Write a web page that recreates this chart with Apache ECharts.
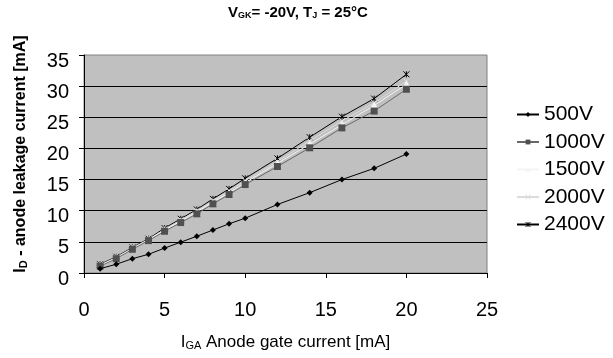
<!DOCTYPE html>
<html><head><meta charset="utf-8">
<script src="https://cdn.jsdelivr.net/npm/echarts@6/dist/echarts.min.js"></script>
<style>html,body{margin:0;padding:0;background:#fff}#c{width:613px;height:358px}</style>
</head><body><div id="c"></div>
<script>
const xValues = [1,2,3,4,5,6,7,8,9,10,12,14,16,18,20];
const s500  = [0.7,1.4,2.3,3.0,4.0,4.95,5.9,6.9,7.9,8.8,11.0,12.9,15.0,16.8,19.1];
const s1000 = [1.1,2.3,3.8,5.2,6.7,8.1,9.5,11.1,12.6,14.2,17.1,20.1,23.3,26.0,29.5];
const s1500 = [1.2,2.4,3.9,5.3,6.9,8.3,9.8,11.4,12.9,14.5,17.6,20.7,23.8,26.9,30.3];
const s2000 = [1.3,2.5,4.0,5.4,7.0,8.5,10.0,11.6,13.2,14.8,17.9,21.2,24.4,27.3,30.8];
const s2400 = [1.4,2.6,4.1,5.5,7.2,8.7,10.2,11.9,13.5,15.2,18.4,21.8,25.1,28.0,31.9];
const seriesNames = ['500V','1000V','1500V','2000V','2400V'];
const xTicks = [0,5,10,15,20,25];
const yTicks = [0,5,10,15,20,25,30,35];

const FONT = 'Liberation Sans, Arial, sans-serif';
function pairs(ys){ return xValues.map((x,i)=>[x, ys[i]]); }
const xMark = 'path://M0,0L10,10M10,0L0,10';
const starMark = 'path://M0,0L10,10M10,0L0,10M5,0L5,10';
const styles = [
  {data:s500, color:'#000000', line:'#000000', symbol:'diamond', size:6, stroke:false},
  {data:s1000, color:'#505050', line:'#686868', symbol:'rect', size:7, stroke:false},
  {data:s1500, color:'#f4f4f4', line:'#f4f4f4', symbol:'triangle', size:8, stroke:false},
  {data:s2000, color:'#dcdcdc', line:'#dcdcdc', symbol:xMark, size:6, stroke:true},
  {data:s2400, color:'#000000', line:'#000000', symbol:starMark, size:6, stroke:true}
];
const series = styles.map((s,i)=>({
  name: seriesNames[i], type:'line', data: pairs(s.data),
  symbol: s.symbol, symbolSize: s.size, showSymbol:true,
  lineStyle:{color:s.line, width:1},
  itemStyle: s.stroke ? {color:'rgba(0,0,0,0)', borderColor:s.color, borderWidth:1} : {color:s.color, borderWidth:0},
  emphasis:{disabled:true}, animation:false, z: 10 - i
}));
const legendData = styles.map((s,i)=> s.stroke
  ? {name: seriesNames[i], itemStyle:{color:'rgba(0,0,0,0)', borderColor:s.color, borderWidth:1}}
  : {name: seriesNames[i]});

const chart = echarts.init(document.getElementById('c'), null, {renderer:'canvas'});
chart.setOption({
  backgroundColor:'#ffffff',
  animation:false,
  textStyle:{fontFamily:FONT},
  title:{
    text:'{b|V}{s|GK}{b|= -20V, T}{s|J}{b| = 25°C}',
    left:228, top:5, padding:0,
    textStyle:{rich:{
      b:{fontFamily:FONT, fontWeight:'bold', fontSize:15, color:'#000'},
      s:{fontFamily:FONT, fontWeight:'bold', fontSize:9, color:'#000', verticalAlign:'bottom', padding:[5,0,0,0]}
    }}
  },
  legend:{
    orient:'vertical', left:516, top:104, padding:0,
    itemWidth:22, itemHeight:6, itemGap:6.5,
    textStyle:{fontFamily:FONT, fontSize:21, color:'#000', lineHeight:21},
    data: legendData
  },
  grid:{left:84, top:55, width:403, height:218, show:true, backgroundColor:'#c0c0c0', borderColor:'#808080', borderWidth:1},
  xAxis:{
    type:'value', min:0, max:25, interval:5,
    axisLine:{show:true, onZero:false, lineStyle:{color:'#000', width:1}},
    axisTick:{show:true, inside:false, length:5, lineStyle:{color:'#000'}},
    axisLabel:{fontFamily:FONT, fontSize:20, color:'#000', margin:27},
    splitLine:{show:false},
    name:'{n|I}{s|GA}{n| Anode gate current [mA]}', nameLocation:'middle', nameGap:61,
    nameTextStyle:{rich:{
      n:{fontFamily:FONT, fontSize:17, color:'#000'},
      s:{fontFamily:FONT, fontSize:11, color:'#000', verticalAlign:'bottom', padding:[5,0,0,0]}
    }}
  },
  yAxis:{
    type:'value', min:0, max:35, interval:5,
    axisLine:{show:true, lineStyle:{color:'#000', width:1}},
    axisTick:{show:true, inside:false, length:5, lineStyle:{color:'#000'}},
    axisLabel:{fontFamily:FONT, fontSize:20, color:'#000', margin:15, verticalAlign:'top', lineHeight:12},
    splitLine:{show:true, showMaxLine:false, lineStyle:{color:'#000', width:1}},
    name:'{n|I}{s|D}{n| - anode leakage current [mA]}', nameLocation:'middle', nameGap:55,
    nameTextStyle:{padding:[0,0,0,20], rich:{
      n:{fontFamily:FONT, fontSize:16, fontWeight:'bold', color:'#000'},
      s:{fontFamily:FONT, fontSize:11, fontWeight:'bold', color:'#000', verticalAlign:'bottom', padding:[5,0,0,0]}
    }}
  },
  series: series
});
</script>
</body></html>
